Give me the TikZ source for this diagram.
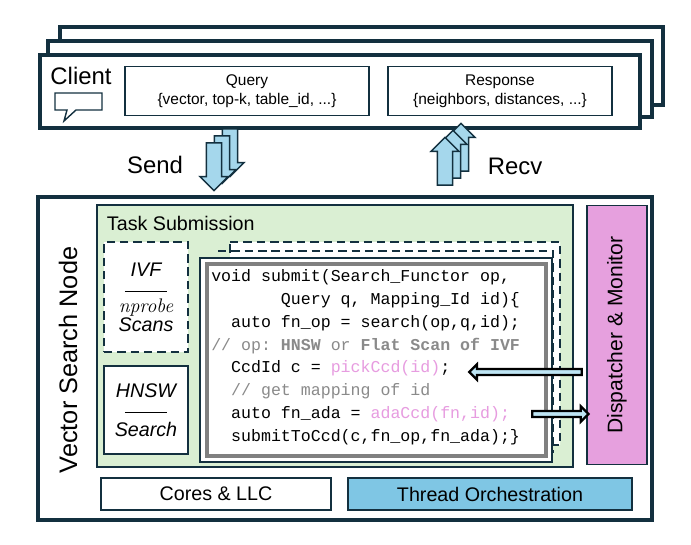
\documentclass[tikz,border=0pt]{standalone}
\usepackage{fontspec}
\setmainfont{Liberation Sans}
\setmonofont{Liberation Mono}
\usetikzlibrary{shapes.arrows}
\definecolor{navy}{HTML}{13303F}
\definecolor{taskgreen}{HTML}{DAEFD3}
\definecolor{dispink}{HTML}{E6A0DE}
\definecolor{thrblue}{HTML}{7FC6E4}
\definecolor{arrblue}{HTML}{BEE5F4}
\definecolor{cmtgray}{HTML}{8A8A8A}
\definecolor{fnpink}{HTML}{E79CE0}
\newcommand{\cmt}[1]{\textcolor{cmtgray}{#1}}
\newcommand{\fnc}[1]{\textcolor{fnpink}{#1}}
\begin{document}
\begin{tikzpicture}[x=0.025cm,y=-0.025cm,
    frame/.style={draw=navy, line width=2.2pt, fill=white},
    box/.style={draw=navy, line width=1.2pt},
    dsh/.style={dash pattern=on 6pt off 3.5pt},
    msg/.style={box, fill=white, align=center, minimum height=35pt,
                font=\fontsize{11}{13.5}\selectfont},
    bigarr/.style={single arrow, draw=navy, line width=1pt, fill=thrblue!70,
                   minimum height=34pt, minimum width=20pt, single arrow head extend=3pt,
                   inner sep=3pt},
    smallarr/.style={draw=black, line width=1.6pt, fill=arrblue, single arrow,
                     minimum width=11pt, single arrow head extend=3pt, inner sep=1pt},
    lbl/.style={font=\fontsize{17}{20}\selectfont}
  ]
    \useasboundingbox (0,0) rectangle (691,545);
    % client stack
    \draw[frame] (60,27) rectangle (663,105);
    \draw[frame] (48,41) rectangle (652,117);
    \draw[frame] (40,55) rectangle (640,128);
    \node[lbl] (client) at (81,76) {Client};
    \draw[navy, line width=1pt] (55,93) -- (102,93) -- (102,110) -- (76,110) -- (64,121) -- (67,110) -- (55,110) -- cycle;
    \node[msg, minimum width=174pt] (query) at (247,91)
      {Query\\\{vector, top-k, table\_id, ...\}};
    \node[msg, minimum width=159pt] (resp) at (500,91)
      {Response\\\{neighbors, distances, ...\}};
    % send / recv
    \foreach \i in {2,1,0}
      \node[bigarr, rotate=-90] (send\i) at (214+8*\i,163-7*\i) {};
    \foreach \i in {2,1,0}
      \node[bigarr, rotate=90] (recv\i) at (445+8*\i,165-7*\i) {};
    \node[lbl] (sendl) at (155,165) {Send};
    \node[lbl] (recvl) at (515,166) {Recv};
    % node
    \draw[frame] (38,197) rectangle (652,520);
    \node[lbl, rotate=90, font=\fontsize{18}{20}\selectfont] (vsn) at (68,360) {Vector Search Node};
    \draw[box, fill=taskgreen] (97,205) rectangle (573,467);
    \node[anchor=west, font=\fontsize{14}{16}\selectfont] (task) at (102,223) {Task Submission};
    \node[box, dsh, fill=white, minimum width=60pt, minimum height=78pt, align=center,
          font=\fontsize{14}{16}\itshape] (ivf) at (146,297)
      {IVF\\[-2pt]\rule[3pt]{30pt}{0.6pt}\\[-4pt]{\fontfamily{lmr}\selectfont nprobe}\\[-3pt]Scans};
    \node[box, fill=white, minimum width=60pt, minimum height=63pt, align=center,
          font=\fontsize{14}{16}\itshape] (hnsw) at (146,410)
      {HNSW\\[-2pt]\rule[3pt]{30pt}{0.6pt}\\[-2pt]Search};
    % code
    \draw[box, dsh, fill=white] (230,242) -- (560,242) -- (560,445) -- (550,445) -- (550,258) -- (230,258) -- cycle;
    \draw[box, dsh] (218,251) -- (553,251) -- (553,452) -- (545,452);
    \draw[box, fill=white] (200,258) rectangle (552,462);
    \draw[draw=gray, line width=2.2pt] (207,264) rectangle (546,456);
    \node[anchor=north west, align=left, inner sep=0pt,
          font=\fontsize{11.8}{16.3}\ttfamily] (code) at (211,269)
      {void submit(Search\_Functor op,\\
       \ \ \ \ \ \ \ Query q, Mapping\_Id id)\{\\
       \ \ auto fn\_op = search(op,q,id);\\
       \cmt{// op: \textbf{HNSW} or \textbf{Flat Scan of IVF}}\\
       \ \ CcdId c = \fnc{pickCcd(id)};\\
       \ \ \cmt{// get mapping of id}\\
       \ \ auto fn\_ada = \fnc{adaCcd(fn,id);}\\
       \ \ submitToCcd(c,fn\_op,fn\_ada);\}};
    % dispatcher
    \node[box, fill=dispink, minimum width=184pt, minimum height=43pt,
          rotate=90, font=\fontsize{15}{17}\selectfont] (disp) at (617,335) {Dispatcher \& Monitor};
    \node[smallarr, shape border rotate=180, minimum height=80pt] (pick) at (527,372) {};
    \node[smallarr, minimum height=40pt] (ada) at (559,414) {};
    % bottom
    \node[box, fill=white, minimum width=164pt, minimum height=23pt,
          font=\fontsize{14}{16}\selectfont] (cores) at (216,494) {Cores \& LLC};
    \node[box, fill=thrblue, minimum width=202pt, minimum height=23pt,
          font=\fontsize{14}{16}\selectfont] (thr) at (490,494) {Thread Orchestration};
  \end{tikzpicture}
\end{document}
